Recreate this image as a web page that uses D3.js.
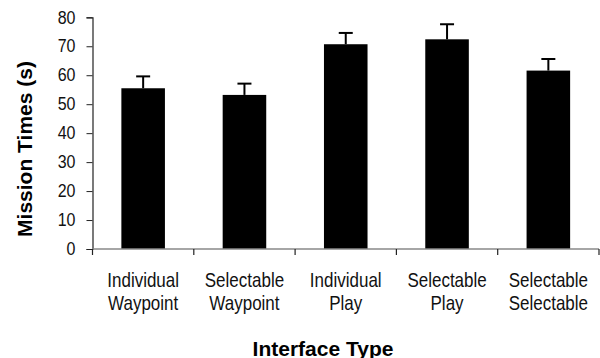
<!DOCTYPE html>
<html><head><meta charset="utf-8">
<script src="https://cdn.jsdelivr.net/npm/d3@7"></script>
<style>body{margin:0;background:#fff}svg{display:block}</style>
</head><body>
<script>
const categories = [["Individual","Waypoint"],["Selectable","Waypoint"],["Individual","Play"],["Selectable","Play"],["Selectable","Selectable"]];
const means = [55.5, 53.2, 70.7, 72.4, 61.6];
const errorTops = [59.6, 57.1, 74.6, 77.6, 65.6];
const yTicks = [0,10,20,30,40,50,60,70,80];

const W = 600, H = 358;
const svg = d3.select("body").append("svg").attr("width", W).attr("height", H);
const font = "'Liberation Sans', Arial, sans-serif";

const x = d3.scaleBand().domain(d3.range(categories.length)).range([92.5, 599])
  .paddingInner(0.57).paddingOuter(0.285);
const y = d3.scaleLinear().domain([0, 80]).range([249, 17.3]);

// bars
svg.selectAll("rect.bar").data(means).join("rect")
  .attr("x", (d,i) => x(i)).attr("width", x.bandwidth())
  .attr("y", d => y(d)).attr("height", d => y(0) - y(d))
  .attr("fill", "#000");

// error bars
const capW = 14;
const g = svg.append("g").attr("stroke", "#000").attr("stroke-width", 2);
means.forEach((m, i) => {
  const cx = x(i) + x.bandwidth()/2;
  g.append("line").attr("x1", cx).attr("x2", cx).attr("y1", y(m)).attr("y2", y(errorTops[i]));
  g.append("line").attr("x1", cx - capW/2).attr("x2", cx + capW/2).attr("y1", y(errorTops[i])).attr("y2", y(errorTops[i]));
});

// y axis
const yAxis = svg.append("g").attr("transform", "translate(92.5,0)")
  .call(d3.axisLeft(y).tickValues(yTicks).tickSize(6).tickPadding(11));
yAxis.select(".domain").attr("stroke", "#222").attr("stroke-width", 1.2);
yAxis.selectAll(".tick line").attr("stroke", "#222");
yAxis.selectAll(".tick text").attr("font-family", font).attr("font-size", 16).attr("fill", "#111")
  .attr("transform", "scale(1,1.12)");

// x axis line and ticks at band boundaries
const step = x.step();
const x0 = 92.5;
svg.append("line").attr("x1", x0).attr("x2", 599).attr("y1", y(0)).attr("y2", y(0))
  .attr("stroke", "#888").attr("stroke-width", 1.5);
d3.range(categories.length + 1).forEach(k => {
  const tx = x0 + k * step;
  svg.append("line").attr("x1", tx).attr("x2", tx).attr("y1", y(0)).attr("y2", y(0) + 6)
    .attr("stroke", "#222").attr("stroke-width", 1.2);
});

// category labels
categories.forEach((lines, i) => {
  const cx = x(i) + x.bandwidth()/2;
  [287, 309.5].forEach((by, j) => {
    svg.append("text").attr("text-anchor", "middle").attr("font-family", font)
      .attr("font-size", 17).attr("fill", "#111")
      .attr("transform", `translate(${cx},${by}) scale(1,1.18)`)
      .text(lines[j]);
  });
});

// axis titles
svg.append("text").attr("x", 323).attr("y", 355.5).attr("text-anchor", "middle")
  .attr("font-family", font).attr("font-weight", "bold").attr("font-size", 21).text("Interface Type");
svg.append("text").attr("transform", "translate(32,149) rotate(-90)").attr("text-anchor", "middle")
  .attr("font-family", font).attr("font-weight", "bold").attr("font-size", 21).text("Mission Times (s)");
</script>
</body></html>
